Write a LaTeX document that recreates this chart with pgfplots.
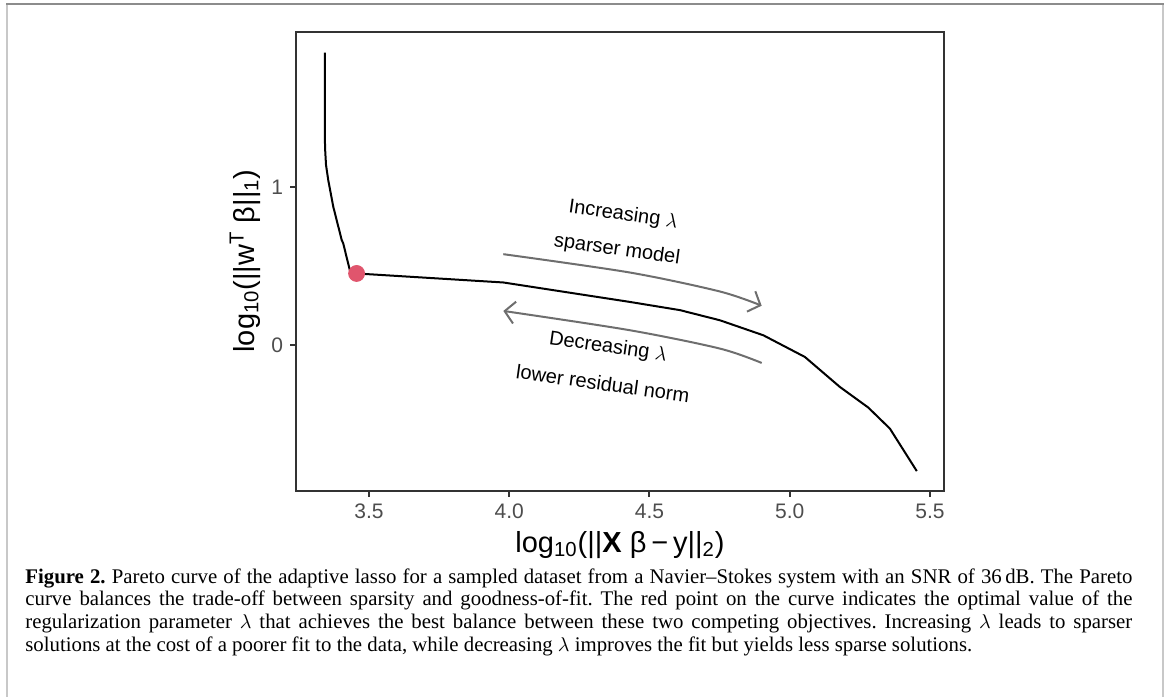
\documentclass[border=0pt]{standalone}
\usepackage{fontspec}
\setmainfont{Liberation Sans}
\newfontfamily\capfont{Liberation Serif}
\usepackage{pgfplots}
\pgfplotsset{compat=1.18}
\usetikzlibrary{arrows.meta}

\definecolor{frameline}{HTML}{8C8C8C}
\definecolor{framefaint}{HTML}{C8C8C8}
\definecolor{axisgrey}{HTML}{333333}
\definecolor{ticktext}{HTML}{4D4D4D}
\definecolor{optred}{HTML}{E0556D}
\definecolor{arrowgrey}{HTML}{6E6E6E}

\newlength{\capw}
\setlength{\capw}{553.5pt}

\begin{document}
\begin{tikzpicture}
\useasboundingbox (0pt,0pt) rectangle (583.5pt,-348.5pt);
% page frame (open at the bottom)
\draw[framefaint, line width=1pt] (3.6pt,-2pt) -- (3.6pt,-348.5pt);
\draw[framefaint, line width=1pt] (581.4pt,-2pt) -- (581.4pt,-348.5pt);
\draw[frameline, line width=0.6pt] (3.1pt,-2pt) -- (581.9pt,-2pt);

\begin{axis}[
  at={(148pt,-245.35pt)}, anchor=south west,
  scale only axis, width=324pt, height=229.5pt,
  xmin=3.24, xmax=5.55, ymin=-0.92, ymax=1.983,
  xtick={3.5,4,4.5,5,5.5}, ytick={0,1},
  xtick pos=bottom, ytick pos=left,
  axis line style={axisgrey, line width=1pt},
  tick style={axisgrey, line width=1pt},
  tick align=outside, major tick length=3pt,
  ticklabel style={font=\fontsize{10.5}{12}\selectfont, text=ticktext},
  /pgf/number format/assume math mode=true,
  x tick label style={/pgf/number format/.cd, fixed, fixed zerofill, precision=1},
  y tick label style={/pgf/number format/.cd, fixed, precision=0},
]
% Pareto curve
\addplot[black, line width=1pt] coordinates {
  (3.343,1.850) (3.343,1.300) (3.344,1.234) (3.347,1.140) (3.355,1.044) (3.373,0.875)
  (3.391,0.749) (3.403,0.665) (3.408,0.646) (3.432,0.475) (3.456,0.454)
  (3.979,0.397) (4.430,0.274) (4.609,0.222) (4.751,0.158) (4.906,0.063)
  (5.054,-0.074) (5.179,-0.264) (5.280,-0.394) (5.357,-0.527) (5.453,-0.796)
};
% optimal lambda
\addplot[only marks, mark=*, mark size=4pt, color=optred] coordinates {(3.456,0.454)};
% direction arrows
\addplot[smooth, arrowgrey, line width=1pt, -{Straight Barb[length=5pt,width=11pt]}] coordinates {
  (3.979,0.576) (4.430,0.460) (4.751,0.340) (4.900,0.250)
};
\addplot[smooth, arrowgrey, line width=1pt, -{Straight Barb[length=5pt,width=11pt]}] coordinates {
  (4.900,-0.112) (4.751,-0.021) (4.430,0.095) (3.979,0.217)
};
\node[rotate=-8, font=\fontsize{10}{12}\selectfont] at (axis cs:4.406,0.823) {Increasing $\lambda$};
\node[rotate=-8, font=\fontsize{10}{12}\selectfont] at (axis cs:4.384,0.601) {sparser model};
\node[rotate=-8, font=\fontsize{10}{12}\selectfont] at (axis cs:4.352,-0.013) {Decreasing $\lambda$};
\node[rotate=-8, font=\fontsize{10}{12}\selectfont] at (axis cs:4.334,-0.241) {lower residual norm};
\end{axis}

% axis titles
\node[font=\fontsize{14.5}{16}\selectfont] at (310pt,-272.5pt)
  {log\textsubscript{10}(||\textbf{X} β\,−\,y||\textsubscript{2})};
\node[rotate=90, font=\fontsize{14.5}{16}\selectfont] at (122.5pt,-130.5pt)
  {log\textsubscript{10}(||w\textsuperscript{T} β||\textsubscript{1})};

% caption
\node[anchor=base west, inner sep=0pt] at (12.5pt,-291.5pt) {\parbox[t]{\capw}{\capfont\frenchspacing\fontsize{10.4}{11.4}\selectfont
\hbox to \capw{\textbf{Figure 2.} Pareto curve of the adaptive lasso for a sampled dataset from a Navier–Stokes system with an SNR of 36\,dB. The Pareto}
\hbox to \capw{curve balances the trade-off between sparsity and goodness-of-fit. The red point on the curve indicates the optimal value of the}
\hbox to \capw{regularization parameter $\lambda$ that achieves the best balance between these two competing objectives. Increasing $\lambda$ leads to sparser}
\hbox{solutions at the cost of a poorer fit to the data, while decreasing $\lambda$ improves the fit but yields less sparse solutions.}}};
\end{tikzpicture}
\end{document}
